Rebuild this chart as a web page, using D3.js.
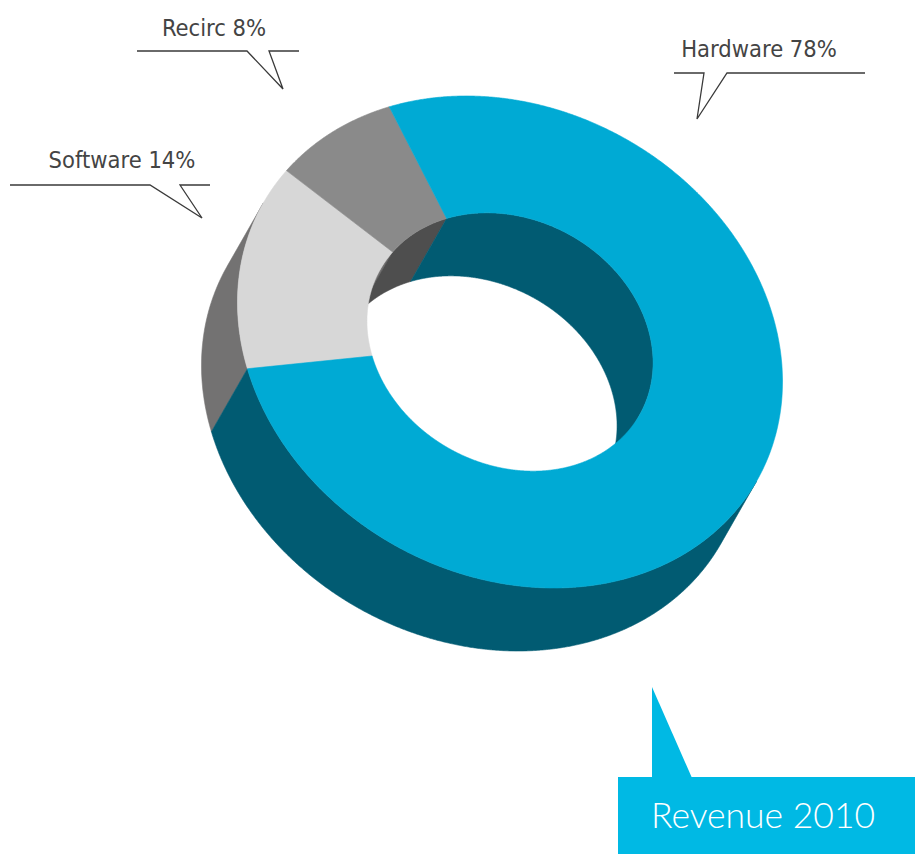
<!DOCTYPE html>
<html>
<head>
<meta charset="utf-8">
<script src="https://cdn.jsdelivr.net/npm/d3@7"></script>
<style>
  html, body { margin: 0; padding: 0; background: #fff; }
  svg { display: block; }
</style>
</head>
<body>
<svg id="chart" width="915" height="854"></svg>
<script>
// Revenue split, 2010
const categories = ["Hardware", "Software", "Recirc"];
const values = [78, 14, 8];
const topColors = ["#00aad4", "#d7d7d7", "#8a8a8a"];
const sideColors = ["#015b72", "#737272", "#4e4e4e"];
const title = "Revenue 2010";

// Order in which slices run around the ring
const drawOrder = [1, 2, 0];

const svg = d3.select("#chart");

// Tilted ring geometry: unit circle mapped by a 2x2 matrix, then extruded along `depth`
const center = [510, 342];
const M = [[272.5, 0], [39.6, 242.8]];
const innerRatio = 0.525;
const depth = [-36, 63];
const startDeg = 164.5;

function proj(t, r, z) {
  const c = Math.cos(t), s = Math.sin(t);
  return [
    center[0] + r * (M[0][0] * c + M[0][1] * s) + z * depth[0],
    center[1] + r * (M[1][0] * c + M[1][1] * s) + z * depth[1]
  ];
}

const pie = d3.pie().sort(null)
  .startAngle(startDeg * Math.PI / 180)
  .endAngle(startDeg * Math.PI / 180 + 2 * Math.PI)
  .value(i => values[i]);
const arcs = pie(drawOrder);

const line = d3.line();
const step = Math.PI / 720;

function arcPoints(a, b, r, z) {
  const n = Math.max(2, Math.ceil(Math.abs(b - a) / step));
  const sc = d3.scaleLinear().domain([0, n]).range([a, b]);
  return d3.range(n + 1).map(i => proj(sc(i), r, z));
}

// Direction in circle space along which the extrusion points
const det = M[0][0] * M[1][1] - M[0][1] * M[1][0];
const e = [
  (M[1][1] * depth[0] - M[0][1] * depth[1]) / det,
  (-M[1][0] * depth[0] + M[0][0] * depth[1]) / det
];
const eAng = Math.atan2(e[1], e[0]);

function intersect(a, b, lo, hi) {
  const out = [];
  for (let k = -2; k <= 2; k++) {
    const l = lo + 2 * Math.PI * k, h = hi + 2 * Math.PI * k;
    const s = Math.max(a, l), f = Math.min(b, h);
    if (f > s) out.push([s, f]);
  }
  return out;
}

function wall(a, b, r) {
  const pts = arcPoints(a, b, r, 0).concat(arcPoints(b, a, r, 1));
  return line(pts) + "Z";
}

const gSide = svg.append("g");
// Outer walls facing the viewer
arcs.forEach(d => {
  const i = d.data;
  intersect(d.startAngle, d.endAngle, eAng - Math.PI / 2, eAng + Math.PI / 2).forEach(([s, f]) => {
    gSide.append("path").attr("d", wall(s, f, 1))
      .attr("fill", sideColors[i]).attr("stroke", sideColors[i]).attr("stroke-width", 0.6);
  });
});
// Inner walls on the far side of the hole
arcs.forEach(d => {
  const i = d.data;
  intersect(d.startAngle, d.endAngle, eAng + Math.PI / 2, eAng + 3 * Math.PI / 2).forEach(([s, f]) => {
    gSide.append("path").attr("d", wall(s, f, innerRatio))
      .attr("fill", sideColors[i]).attr("stroke", sideColors[i]).attr("stroke-width", 0.6);
  });
});

// Top faces
const gTop = svg.append("g");
arcs.forEach(d => {
  const i = d.data;
  const pts = arcPoints(d.startAngle, d.endAngle, 1, 0)
    .concat(arcPoints(d.endAngle, d.startAngle, innerRatio, 0));
  gTop.append("path").attr("d", line(pts) + "Z")
    .attr("fill", topColors[i]).attr("stroke", topColors[i]).attr("stroke-width", 0.6);
});

// Callout labels
const callouts = [
  { idx: 1, tx: 122, ty: 168, path: [[10, 185], [150, 185], [202, 218], [180, 185], [210, 185]] },
  { idx: 2, tx: 214, ty: 36, path: [[137, 51], [247, 51], [283, 89], [269, 51], [299, 51]] },
  { idx: 0, tx: 759, ty: 57, path: [[674, 73], [704, 73], [697, 119], [727, 73], [865, 73]] }
];
const gLab = svg.append("g");
callouts.forEach(c => {
  gLab.append("path").attr("d", line(c.path))
    .attr("fill", "none").attr("stroke", "#3a3a3a").attr("stroke-width", 1.3)
    .attr("stroke-linejoin", "miter");
  gLab.append("text").attr("x", c.tx).attr("y", c.ty)
    .attr("text-anchor", "middle")
    .attr("font-family", "'DejaVu Sans Condensed', 'DejaVu Sans', sans-serif")
    .attr("font-stretch", "condensed")
    .attr("font-size", 23.5).attr("fill", "#444")
    .text(`${categories[c.idx]} ${values[c.idx]}%`);
});

// Title tag
const gTitle = svg.append("g");
gTitle.append("path").attr("d", line([[652, 687], [692, 778], [652, 778]]) + "Z").attr("fill", "#00b9e4");
gTitle.append("rect").attr("x", 618).attr("y", 777).attr("width", 297).attr("height", 77).attr("fill", "#00b9e4");
gTitle.append("text").attr("x", 651).attr("y", 828)
  .attr("font-family", "Lato, 'Open Sans', sans-serif").attr("font-weight", 300)
  .attr("font-size", 35.5).attr("fill", "#fff").text(title);
</script>
</body>
</html>
